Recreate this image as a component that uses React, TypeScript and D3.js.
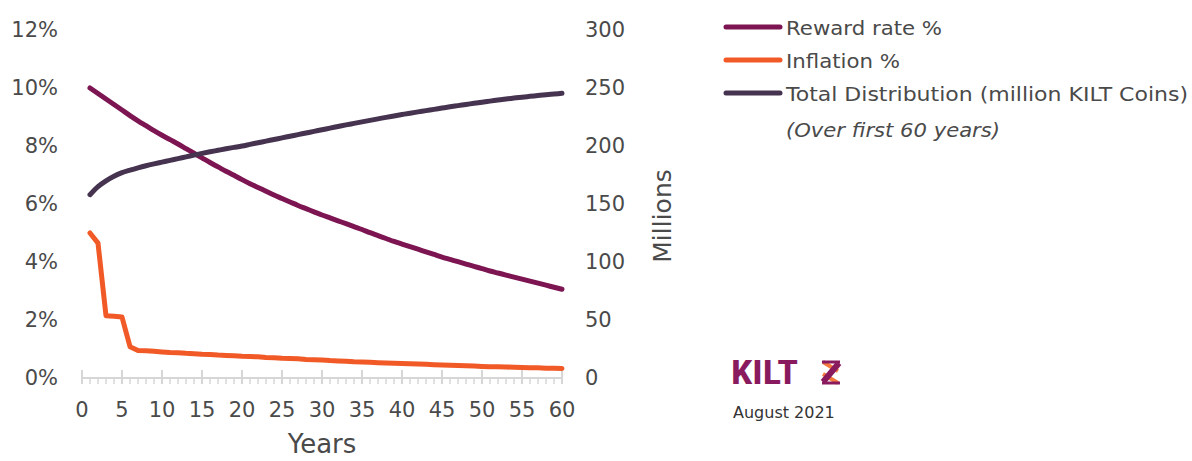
import React from "react";
import * as d3 from "d3";

const years: number[] = Array.from({ length: 60 }, (_, i) => i + 1);

const rewardRate: number[] = [
  10.0, 9.81, 9.62, 9.43, 9.24, 9.05, 8.87, 8.7, 8.53, 8.37,
  8.22, 8.07, 7.91, 7.75, 7.59, 7.43, 7.28, 7.13, 6.99, 6.84,
  6.7, 6.57, 6.44, 6.31, 6.19, 6.07, 5.95, 5.84, 5.73, 5.62,
  5.52, 5.42, 5.32, 5.22, 5.12, 5.01, 4.91, 4.81, 4.71, 4.62,
  4.53, 4.44, 4.35, 4.26, 4.17, 4.09, 4.01, 3.93, 3.85, 3.77,
  3.69, 3.62, 3.55, 3.48, 3.41, 3.34, 3.27, 3.2, 3.13, 3.06,
];

const inflation: number[] = [
  5.0, 4.65, 2.15, 2.13, 2.1, 1.08, 0.95, 0.94, 0.92, 0.9,
  0.88, 0.87, 0.85, 0.84, 0.82, 0.81, 0.79, 0.78, 0.77, 0.75,
  0.74, 0.73, 0.71, 0.7, 0.68, 0.67, 0.66, 0.64, 0.63, 0.62,
  0.6, 0.59, 0.58, 0.56, 0.55, 0.54, 0.53, 0.52, 0.51, 0.5,
  0.49, 0.48, 0.47, 0.46, 0.45, 0.44, 0.43, 0.42, 0.41, 0.4,
  0.39, 0.385, 0.38, 0.37, 0.36, 0.355, 0.35, 0.34, 0.335, 0.33,
];

const totalDistribution: number[] = [
  158, 165, 170, 174, 177, 179.2, 181.2, 183, 184.6, 186.1,
  187.6, 189.1, 190.6, 192.1, 193.6, 195, 196.3, 197.6, 198.8, 200,
  201.4, 202.8, 204.2, 205.6, 207, 208.4, 209.8, 211.2, 212.6, 214,
  215.4, 216.8, 218.2, 219.5, 220.8, 222.1, 223.4, 224.7, 225.9, 227.1,
  228.3, 229.4, 230.5, 231.6, 232.7, 233.8, 234.8, 235.8, 236.8, 237.8,
  238.7, 239.6, 240.5, 241.3, 242.1, 242.8, 243.5, 244.2, 244.8, 245.4,
];

const leftTicks: number[] = [0, 2, 4, 6, 8, 10, 12];
const rightTicks: number[] = [0, 50, 100, 150, 200, 250, 300];
const xMajorTicks: number[] = [0, 5, 10, 15, 20, 25, 30, 35, 40, 45, 50, 55, 60];
const xMinorTicks: number[] = d3.range(0, 61);

const legendLabels: string[] = [
  "Reward rate %",
  "Inflation %",
  "Total Distribution (million KILT Coins)",
];
const legendColors: string[] = ["#7c1551", "#f15a27", "#45334f"];
const legendWidths: number[] = [156, 114, 402];

const FONT = "'DejaVu Sans', 'Open Sans', sans-serif";
const TEXT = "#4a4a4a";

export default function App() {
  const x = d3.scaleLinear().domain([0, 60]).range([82, 562]);
  const yL = d3.scaleLinear().domain([0, 12]).range([378, 30]);
  const yR = d3.scaleLinear().domain([0, 300]).range([378, 30]);

  const lineL = d3
    .line<number>()
    .x((_, i) => x(years[i]))
    .y((d) => yL(d));
  const lineR = d3
    .line<number>()
    .x((_, i) => x(years[i]))
    .y((d) => yR(d))
    .curve(d3.curveMonotoneX);

  return (
    <svg
      width={1192}
      height={461}
      style={{ position: "absolute", left: 0, top: 0, background: "#fff" }}
      fontFamily={FONT}
    >
      {/* x axis */}
      <line x1={x(0)} x2={x(60)} y1={378} y2={378} stroke="#d6d6d6" strokeWidth={2} />
      {xMinorTicks.map((t) => (
        <line key={"mi" + t} x1={x(t)} x2={x(t)} y1={378} y2={384} stroke="#d6d6d6" strokeWidth={1.5} />
      ))}
      {xMajorTicks.map((t) => (
        <line key={"ma" + t} x1={x(t)} x2={x(t)} y1={370} y2={384} stroke="#d6d6d6" strokeWidth={2} />
      ))}
      {xMajorTicks.map((t) => (
        <text key={"xl" + t} x={x(t)} y={410} textAnchor="middle" dominantBaseline="central" fontSize={21} fill={TEXT}>
          {t}
        </text>
      ))}
      <text x={322} y={453} textAnchor="middle" fontSize={26} fill={TEXT}>
        Years
      </text>

      {/* left axis */}
      {leftTicks.map((t) => (
        <text key={"l" + t} x={58} y={yL(t)} textAnchor="end" dominantBaseline="central" fontSize={21} fill={TEXT}>
          {t}%
        </text>
      ))}

      {/* right axis */}
      {rightTicks.map((t) => (
        <text key={"r" + t} x={585} y={yR(t)} textAnchor="start" dominantBaseline="central" fontSize={21} fill={TEXT}>
          {t}
        </text>
      ))}
      <text
        transform="translate(662,216) rotate(-90)"
        textAnchor="middle"
        dominantBaseline="central"
        fontSize={25}
        fill={TEXT}
      >
        Millions
      </text>

      {/* series */}
      <path d={lineL.curve(d3.curveMonotoneX)(rewardRate) || ""} fill="none" stroke={legendColors[0]} strokeWidth={5} strokeLinejoin="round" strokeLinecap="round" />
      <path d={lineL.curve(d3.curveLinear)(inflation) || ""} fill="none" stroke={legendColors[1]} strokeWidth={5} strokeLinejoin="round" strokeLinecap="round" />
      <path d={lineR(totalDistribution) || ""} fill="none" stroke={legendColors[2]} strokeWidth={5} strokeLinejoin="round" strokeLinecap="round" />

      {/* legend */}
      {legendLabels.map((label, i) => (
        <g key={label} transform={`translate(0, ${27 + i * 33})`}>
          <line x1={726} x2={780} y1={0} y2={0} stroke={legendColors[i]} strokeWidth={5} strokeLinecap="round" />
          <text
            x={786}
            y={1}
            dominantBaseline="central"
            fontSize={20}
            fill={TEXT}
            textLength={legendWidths[i]}
            lengthAdjust="spacingAndGlyphs"
          >
            {label}
          </text>
        </g>
      ))}
      <text
        x={786}
        y={130}
        dominantBaseline="central"
        fontSize={19}
        fontStyle="italic"
        fill={TEXT}
        textLength={214}
        lengthAdjust="spacingAndGlyphs"
      >
        (Over first 60 years)
      </text>

      {/* logo */}
      <text
        x={731}
        y={384}
        fontSize={34}
        fontWeight="bold"
        fill="#8a1a5e"
        fontFamily="'Liberation Sans Narrow', 'Roboto Condensed', 'Roboto', sans-serif"
        textLength={67}
        lengthAdjust="spacingAndGlyphs"
      >
        KILT
      </text>
      <g strokeLinecap="butt">
        <path d="M823,362 L838,371" stroke="#f37a3c" strokeWidth={4} fill="none" />
        <path d="M823,374 L838,383" stroke="#f37a3c" strokeWidth={4} fill="none" />
        <path d="M822,362 L840,362" stroke="#8a1a5e" strokeWidth={3} fill="none" />
        <path d="M839,363 L823,382" stroke="#8a1a5e" strokeWidth={6} fill="none" />
        <path d="M822,383 L840,383" stroke="#8a1a5e" strokeWidth={3} fill="none" />
      </g>
      <text x={733} y={412} dominantBaseline="central" fontSize={16} fill="#333">
        August 2021
      </text>
    </svg>
  );
}
